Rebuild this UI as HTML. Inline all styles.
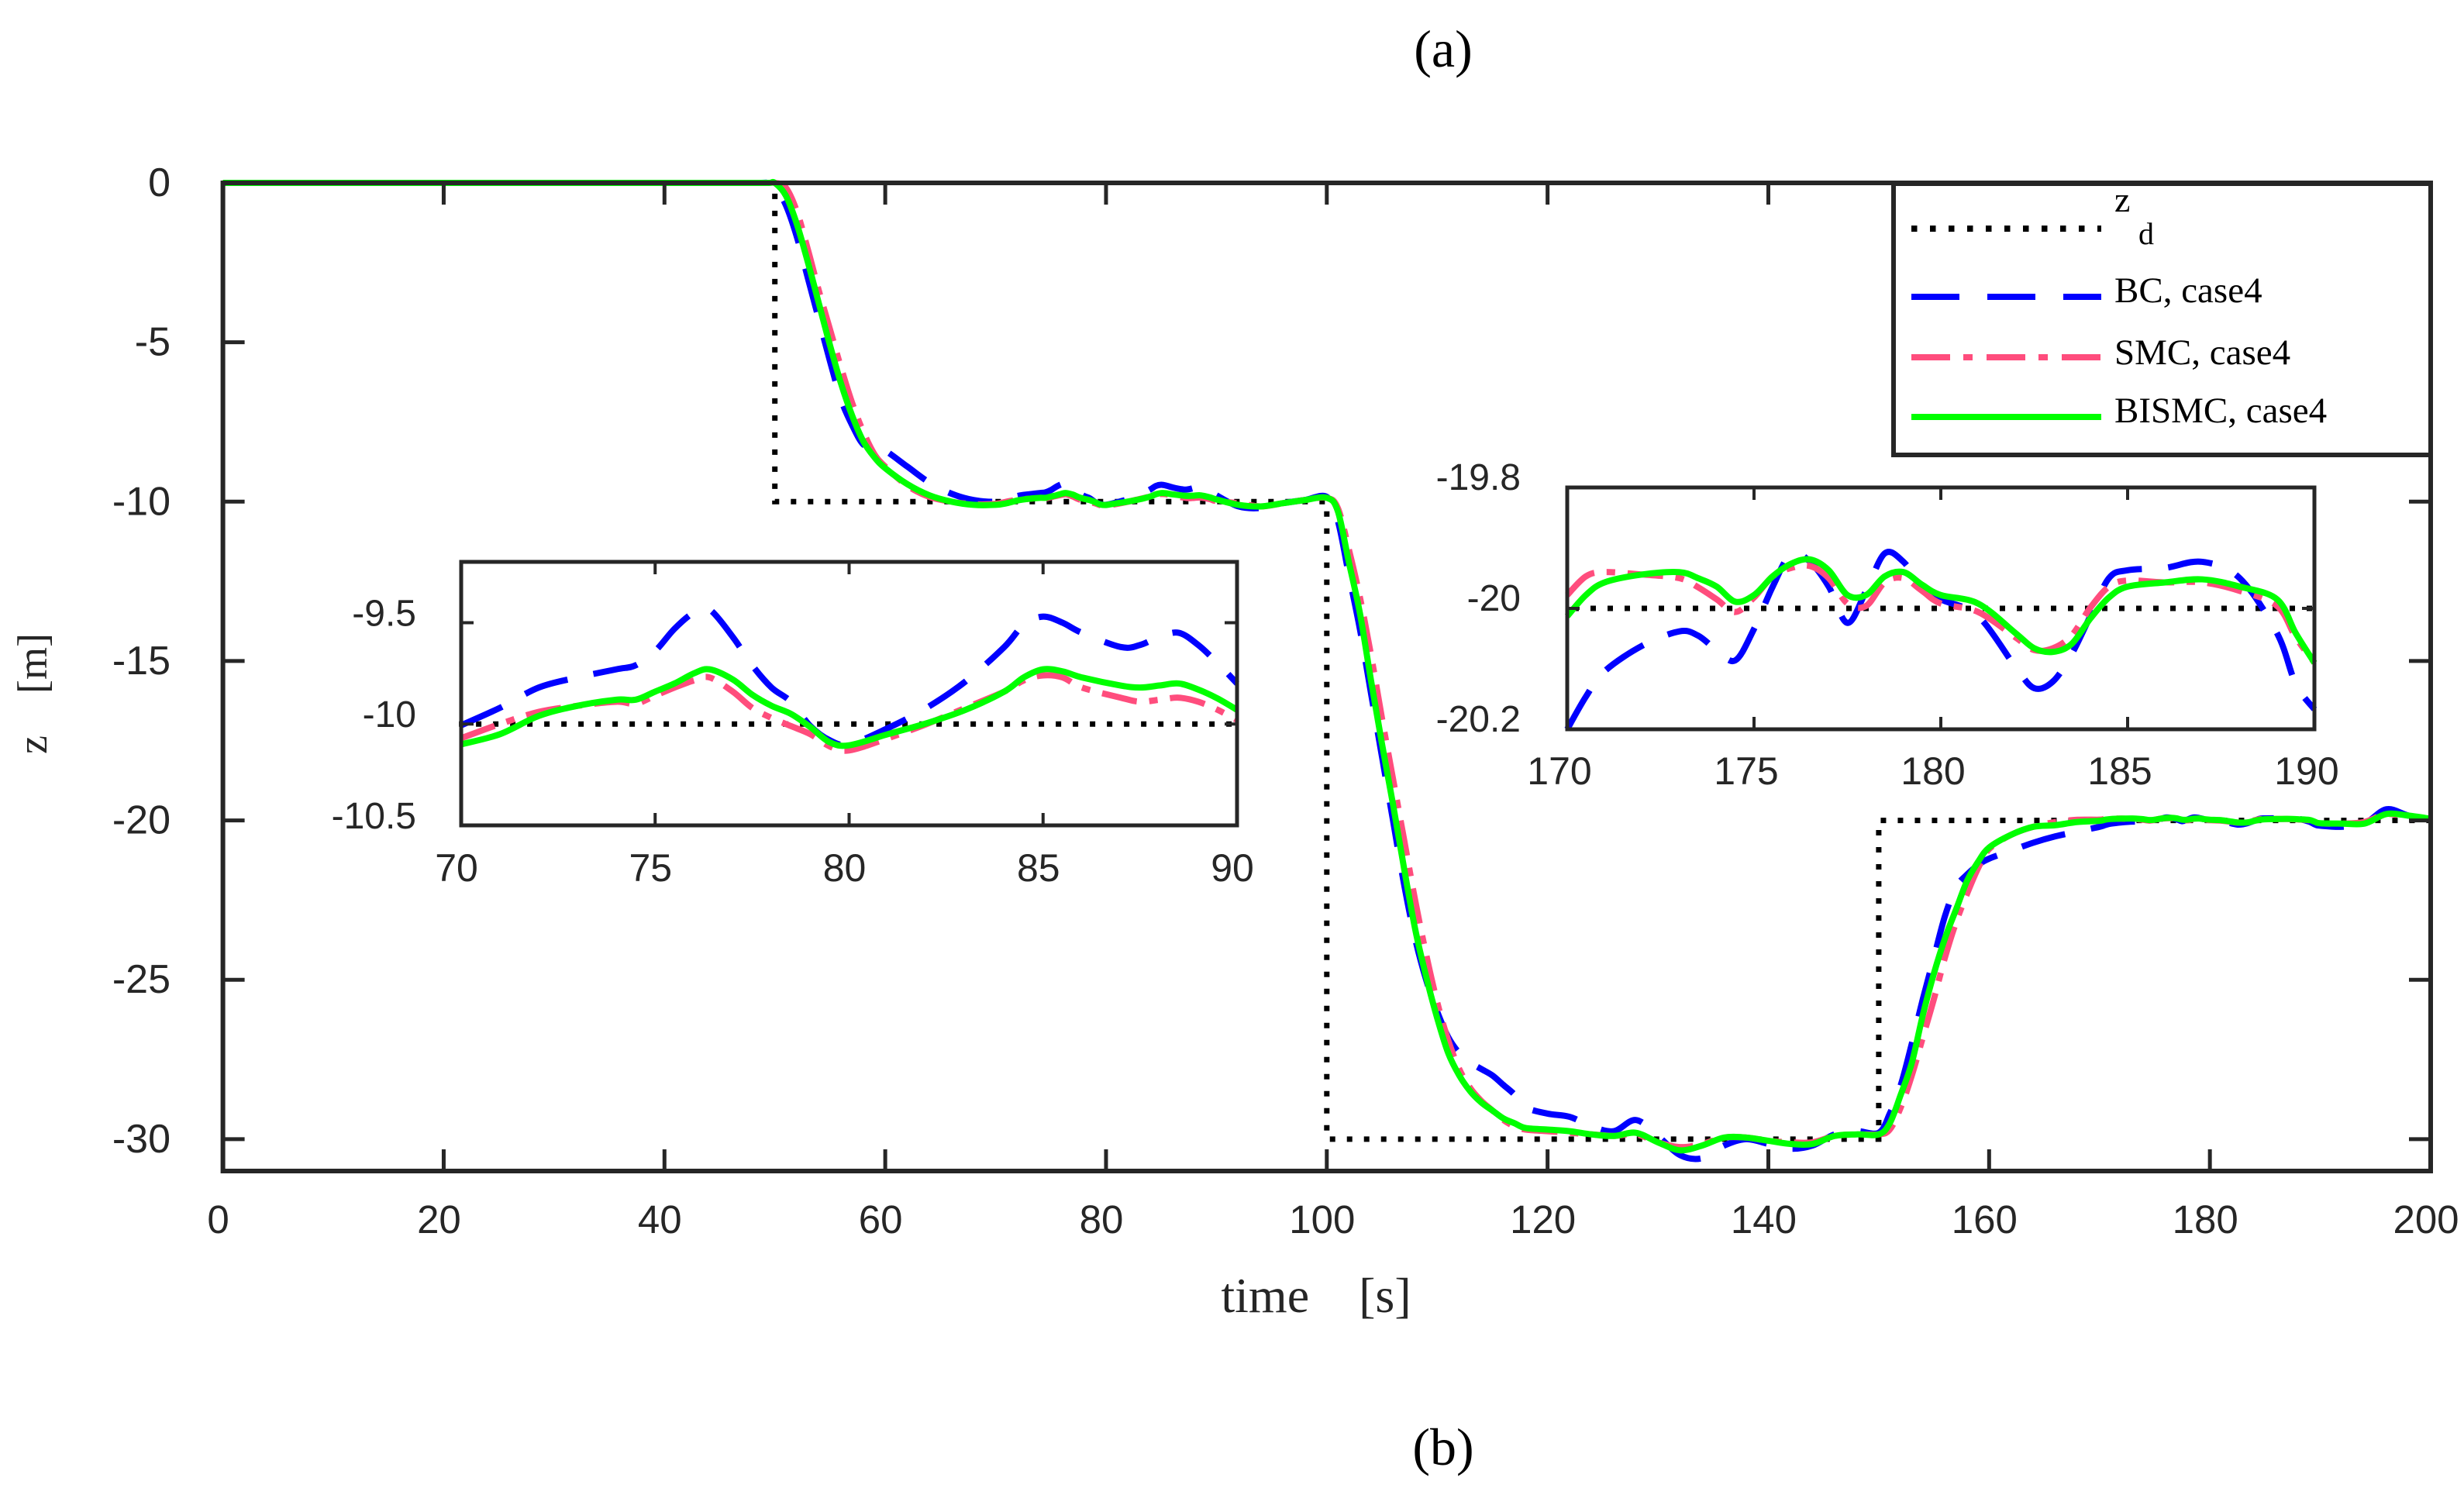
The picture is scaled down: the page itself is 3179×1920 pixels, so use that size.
<!DOCTYPE html>
<html><head><meta charset="utf-8"><title>z response chart</title>
<style>html,body{margin:0;padding:0;background:#fff;overflow:hidden;width:3179px;height:1920px}svg{display:block}</style></head>
<body>
<svg id="chart" xmlns="http://www.w3.org/2000/svg" width="3179" height="1920" viewBox="0 0 3179 1920">
<rect x="0" y="0" width="3179" height="1920" fill="#fff"/>
<text x="1862" y="86" text-anchor="middle" font-family="Liberation Serif, serif" font-size="68" fill="#000">(a)</text>
<text x="1862" y="1890" text-anchor="middle" font-family="Liberation Serif, serif" font-size="68" fill="#000">(b)</text>
<text x="1698" y="1693" text-anchor="middle" font-family="Liberation Serif, serif" font-size="64" fill="#262626">time&#160;&#160;&#160;&#160;[s]</text>
<text transform="translate(60,895) rotate(-90)" text-anchor="middle" font-family="Liberation Serif, serif" font-size="54" fill="#262626">z&#160;&#160;&#160;&#160;[m]</text>
<g id="mainG"></g>
<g id="inset1G"></g>
<g id="inset2G"></g>
<g id="legendG"></g>
</svg>
<script>
// ---------- data ----------
const refStepTimes = [0, 50, 100, 150, 200];
const refStepLevels = [0, -10, -30, -20];

const timeSegA = [0,10,20,30,40,48,49.5,50,51,52,53,54,55,56,57,58,59,60,62,64,66,68];
const bismcSegA = [0,0,0,0,0,0,0,0,-0.4,-1.3,-2.5,-3.8,-5.1,-6.3,-7.3,-8.1,-8.6,-8.95,-9.45,-9.8,-10.0,-10.1];
const bcSegA = [0,0,0,0,0,0,0,-0.1,-0.7,-1.7,-3.0,-4.3,-5.6,-6.8,-7.6,-8.2,-8.3,-8.4,-8.9,-9.4,-9.75,-9.95];
const smcSegA = [0,0,0,0,0,0,0,0,-0.15,-0.9,-2.1,-3.4,-4.6,-5.8,-6.9,-7.8,-8.5,-8.9,-9.5,-9.85,-10.0,-10.08];

const insetTime1 = [70,71,72,73,74,74.5,75,75.5,76,76.4,77,77.5,78,78.5,79,79.5,80,81,82,83,84,84.5,85,85.5,86,87,87.5,88,88.5,89,89.5,90];
const bcInset1 = [-10.006,-9.92,-9.82,-9.77,-9.73,-9.71,-9.64,-9.53,-9.45,-9.435,-9.57,-9.71,-9.82,-9.89,-10.01,-10.08,-10.10,-10.02,-9.92,-9.79,-9.62,-9.51,-9.47,-9.50,-9.55,-9.62,-9.61,-9.57,-9.55,-9.61,-9.70,-9.80];
const bismcInset1 = [-10.10,-10.05,-9.96,-9.91,-9.88,-9.88,-9.84,-9.80,-9.75,-9.73,-9.78,-9.855,-9.91,-9.95,-10.015,-10.09,-10.105,-10.05,-9.996,-9.93,-9.84,-9.77,-9.73,-9.74,-9.77,-9.81,-9.82,-9.81,-9.80,-9.83,-9.874,-9.93];
const smcInset1 = [-10.07,-10.0,-9.94,-9.91,-9.89,-9.90,-9.86,-9.82,-9.785,-9.77,-9.84,-9.92,-9.97,-10.01,-10.05,-10.11,-10.13,-10.07,-10.0,-9.92,-9.84,-9.785,-9.76,-9.77,-9.82,-9.87,-9.89,-9.88,-9.87,-9.89,-9.93,-9.98];

const timeSegC = [92,94,96,98,100,101,102,103,104,105,106,107,108,109,110,111,112,113,114,115,116,117,118,120,122,124,126,128,130,132,134,136,138,140,142,144,146,148,150,151,152,153,154,155,156,157,158,159,160,162,164,166,168];
const bismcSegC = [-10.1,-10.15,-10.05,-9.95,-9.88,
 -10.3,-11.9,-13.5,-15.6,-17.6,-19.5,-21.5,-23.4,-24.9,-26.2,-27.3,-28.0,-28.5,-28.85,-29.1,-29.35,-29.5,-29.65,
 -29.7,-29.75,-29.85,-29.9,-29.8,-30.1,-30.35,-30.2,-29.95,-29.95,-30.05,-30.15,-30.15,-29.9,-29.85,-29.85,
 -29.5,-28.6,-27.6,-26.1,-24.8,-23.7,-22.8,-21.9,-21.3,-20.85,
 -20.45,-20.2,-20.15,-20.05];
const bcSegC = [-10.15,-10.2,-10.05,-9.95,-9.85,
 -10.6,-12.3,-14.0,-16.0,-18.0,-20.0,-22.0,-23.7,-25.0,-26.0,-26.8,-27.3,-27.6,-27.8,-28.0,-28.3,-28.6,-29.0,
 -29.2,-29.3,-29.6,-29.75,-29.4,-29.9,-30.5,-30.6,-30.2,-30.0,-30.15,-30.3,-30.2,-29.85,-29.75,-29.8,
 -29.2,-28.3,-27.0,-25.6,-24.3,-23.0,-22.1,-21.7,-21.4,-21.2,
 -20.95,-20.7,-20.5,-20.35];
const smcSegC = [-10.05,-10.15,-10.05,-9.95,-9.88,
 -10.2,-11.5,-13.0,-14.8,-16.8,-18.7,-20.6,-22.5,-24.2,-25.7,-26.9,-27.8,-28.4,-28.8,-29.1,-29.4,-29.6,-29.7,
 -29.75,-29.8,-29.85,-29.9,-29.85,-30.1,-30.25,-30.15,-29.95,-29.95,-30.05,-30.1,-30.1,-29.9,-29.85,-29.85,
 -29.7,-29.0,-28.0,-26.8,-25.6,-24.3,-23.2,-22.3,-21.5,-20.9,
 -20.45,-20.2,-20.05,-19.98];

const insetTime2 = [170,170.5,171,172,173,173.5,174,174.5,175,175.5,176,176.5,177,177.5,178,178.5,179,179.5,180,181,182,182.5,183,183.5,184,184.5,185,186,187,188,189,189.5,190];
const bcInset2 = [-20.20,-20.146,-20.104,-20.062,-20.038,-20.045,-20.069,-20.086,-20.034,-19.964,-19.909,-19.923,-19.964,-20.024,-19.971,-19.909,-19.923,-19.964,-19.985,-20.013,-20.097,-20.132,-20.121,-20.076,-20.013,-19.95,-19.937,-19.933,-19.923,-19.95,-20.041,-20.125,-20.167];
const bismcInset2 = [-20.013,-19.978,-19.957,-19.944,-19.94,-19.95,-19.964,-19.989,-19.978,-19.947,-19.926,-19.919,-19.937,-19.978,-19.978,-19.947,-19.94,-19.961,-19.978,-19.992,-20.041,-20.066,-20.072,-20.059,-20.017,-19.982,-19.964,-19.957,-19.952,-19.964,-19.985,-20.041,-20.09];
const smcInset2 = [-19.978,-19.947,-19.94,-19.944,-19.95,-19.965,-19.985,-20.006,-19.982,-19.947,-19.933,-19.93,-19.95,-19.992,-19.996,-19.957,-19.95,-19.971,-19.992,-20.006,-20.048,-20.069,-20.066,-20.045,-19.999,-19.964,-19.954,-19.957,-19.957,-19.971,-19.996,-20.048,-20.09];

const timeSegE = [192,194,196,198,200];
const bismcSegE = [-20.1,-20.1,-19.8,-19.85,-19.95];
const bcSegE = [-20.2,-20.1,-19.65,-19.85,-19.95];
const smcSegE = [-20.1,-20.05,-19.8,-19.9,-19.95];

const timeMain = timeSegA.concat(insetTime1, timeSegC, insetTime2, timeSegE);
const bismcMain = bismcSegA.concat(bismcInset1, bismcSegC, bismcInset2, bismcSegE);
const bcMain = bcSegA.concat(bcInset1, bcSegC, bcInset2, bcSegE);
const smcMain = smcSegA.concat(smcInset1, smcSegC, smcInset2, smcSegE);

const mainXTicks = [0,20,40,60,80,100,120,140,160,180,200];
const mainYTicks = [0,-5,-10,-15,-20,-25,-30];
const inset1XTicks = [70,75,80,85,90];
const inset1YTicks = [-9.5,-10,-10.5];
const inset2XTicks = [170,175,180,185,190];
const inset2YTicks = [-19.8,-20,-20.2];
const legendLabels = ["BC, case4","SMC, case4","BISMC, case4"];

// ---------- helpers ----------
const NS = "http://www.w3.org/2000/svg";
const AX = "#262626";
function mk(tag, attrs, parent) {
  const e = document.createElementNS(NS, tag);
  for (const k in attrs) e.setAttribute(k, attrs[k]);
  if (parent) parent.appendChild(e);
  return e;
}
function scale(d0, d1, r0, r1) { return v => r0 + (v - d0) * (r1 - r0) / (d1 - d0); }
function smoothPath(pts) {
  let d = "M" + pts[0][0].toFixed(2) + "," + pts[0][1].toFixed(2);
  for (let i = 0; i < pts.length - 1; i++) {
    const p0 = pts[Math.max(0, i - 1)], p1 = pts[i], p2 = pts[i + 1], p3 = pts[Math.min(pts.length - 1, i + 2)];
    const c1x = p1[0] + (p2[0] - p0[0]) / 6, c1y = p1[1] + (p2[1] - p0[1]) / 6;
    const c2x = p2[0] - (p3[0] - p1[0]) / 6, c2y = p2[1] - (p3[1] - p1[1]) / 6;
    d += "C" + c1x.toFixed(2) + "," + c1y.toFixed(2) + " " + c2x.toFixed(2) + "," + c2y.toFixed(2) + " " + p2[0].toFixed(2) + "," + p2[1].toFixed(2);
  }
  return d;
}
const STY = {
  ref: {stroke: "#000", "stroke-width": 7, "stroke-dasharray": "7 15", fill: "none"},
  bc: {stroke: "#0000ff", "stroke-width": 8, "stroke-dasharray": "58 34", fill: "none"},
  smc: {stroke: "#ff4d7d", "stroke-width": 8, "stroke-dasharray": "46 16 11 16", fill: "none"},
  bismc: {stroke: "#00ff00", "stroke-width": 8, fill: "none"}
};

function drawPanel(g, box, xlim, ylim, xticks, yticks, opts, clipId, series) {
  const sx = scale(xlim[0], xlim[1], box.x0, box.x1);
  const sy = scale(ylim[0], ylim[1], box.y1, box.y0);
  const bg = mk("rect", {x: box.x0, y: box.y0, width: box.x1 - box.x0, height: box.y1 - box.y0, fill: "#fff"}, g);
  
  
  const cp = mk("clipPath", {id: clipId}, g);
  mk("rect", {x: box.x0 - 4, y: box.y0 - 6, width: box.x1 - box.x0 + 8, height: box.y1 - box.y0 + 10}, cp);
  const lines = mk("g", {"clip-path": "url(#" + clipId + ")"}, g);
  
  
  let rd = "";
  for (let i = 0; i < refStepLevels.length; i++) {
    const xa = sx(refStepTimes[i]), xb = sx(refStepTimes[i + 1]), yy = sy(refStepLevels[i]);
    if (i === 0) rd += "M" + xa + "," + yy; else rd += "L" + xa + "," + yy;
    rd += "L" + xb + "," + yy;
  }
  const rp = mk("path", Object.assign({d: rd}, STY.ref), lines);
  
  
  series.forEach(s => {
    const pts = s.t.map((t, i) => [sx(t), sy(s.v[i])]);
    const p = mk("path", Object.assign({d: smoothPath(pts)}, STY[s.key]), lines);
    
    
  });
  const fr = mk("rect", {x: box.x0, y: box.y0, width: box.x1 - box.x0, height: box.y1 - box.y0, fill: "none", stroke: AX, "stroke-width": opts.fw}, g);
  
  
  xticks.forEach(t => {
    const x = sx(t);
    const tk = mk("path", {d: "M" + x + "," + box.y1 + "v" + (-opts.tl) + "M" + x + "," + box.y0 + "v" + opts.tl, stroke: AX, "stroke-width": opts.tw}, g);
    
    
    const tx = mk("text", {x: x - opts.xlOff, y: opts.xlY, "text-anchor": "middle", "font-family": "Liberation Sans, Arial, sans-serif", "font-size": opts.xfs, fill: AX}, g);
    tx.textContent = String(t);
    
    
  });
  yticks.forEach(v => {
    const y = sy(v);
    const tk = mk("path", {d: "M" + box.x0 + "," + y + "h" + opts.tl + "M" + box.x1 + "," + y + "h" + (-opts.tl), stroke: AX, "stroke-width": opts.tw}, g);
    
    
    const tx = mk("text", {x: opts.ylX, y: y + opts.ylDy, "text-anchor": "end", "font-family": "Liberation Sans, Arial, sans-serif", "font-size": opts.yfs, fill: AX}, g);
    tx.textContent = String(v);
    
    
  });
}

drawPanel(document.getElementById("mainG"),
  {x0: 287.6, x1: 3136, y0: 236, y1: 1511}, [0, 200], [-31, 0], mainXTicks, mainYTicks,
  {fw: 6, tw: 5, tl: 28, xlY: 1591, xlOff: 6, xfs: 51, ylX: 220, ylDy: 17, yfs: 52}, "clipMain",
  [{key: "bc", name: "bc-case4-line", t: timeMain, v: bcMain},
   {key: "smc", name: "smc-case4-line", t: timeMain, v: smcMain},
   {key: "bismc", name: "bismc-case4-line", t: timeMain, v: bismcMain}]);

drawPanel(document.getElementById("inset1G"),
  {x0: 595, x1: 1596, y0: 725, y1: 1065}, [70, 90], [-10.5, -9.2], inset1XTicks, inset1YTicks,
  {fw: 5, tw: 4, tl: 16, xlY: 1137, xlOff: 6, xfs: 50, ylX: 537, ylDy: 4, yfs: 48}, "clipIn1",
  [{key: "bc", name: "bc-inset1-line", t: insetTime1, v: bcInset1},
   {key: "smc", name: "smc-inset1-line", t: insetTime1, v: smcInset1},
   {key: "bismc", name: "bismc-inset1-line", t: insetTime1, v: bismcInset1}]);

drawPanel(document.getElementById("inset2G"),
  {x0: 2022, x1: 2986, y0: 629, y1: 941}, [170, 190], [-20.2, -19.8], inset2XTicks, inset2YTicks,
  {fw: 5, tw: 4, tl: 16, xlY: 1012, xlOff: 10, xfs: 50, ylX: 1962, ylDy: 3, yfs: 48}, "clipIn2",
  [{key: "bc", name: "bc-inset2-line", t: insetTime2, v: bcInset2},
   {key: "smc", name: "smc-inset2-line", t: insetTime2, v: smcInset2},
   {key: "bismc", name: "bismc-inset2-line", t: insetTime2, v: bismcInset2}]);

(function () {
  const g = document.getElementById("legendG");
  const box = mk("rect", {x: 2443, y: 237, width: 693, height: 350, fill: "#fff", stroke: AX, "stroke-width": 6}, g);
  
  
  const rows = [295, 383, 461, 538];
  const keys = ["ref", "bc", "smc", "bismc"];
  keys.forEach((k, i) => {
    const st = Object.assign({}, STY[k]);
    if (k === "bc") st["stroke-dasharray"] = "62 36";
    if (k === "smc") st["stroke-dasharray"] = "50 17 12 18";
    if (k === "ref") st["stroke-dasharray"] = "7.5 16.5";
    st["stroke-width"] = 8;
    const ln = mk("path", Object.assign({d: "M2466," + rows[i] + "H2711"}, st), g);
    
    
  });
  const z = mk("text", {x: 2728, y: 273, "font-family": "Liberation Serif, serif", "font-size": 46, fill: "#000"}, g);
  z.textContent = "z";
  
  
  const d = mk("text", {x: 2759, y: 315, "font-family": "Liberation Serif, serif", "font-size": 40, fill: "#000"}, g);
  d.textContent = "d";
  
  
  const ys = [390, 470, 545];
  legendLabels.forEach((lab, i) => {
    const t = mk("text", {x: 2728, y: ys[i], "font-family": "Liberation Serif, serif", "font-size": 47, fill: "#000"}, g);
    t.textContent = lab;
    
    
  });
})();
</script>
</body></html>
